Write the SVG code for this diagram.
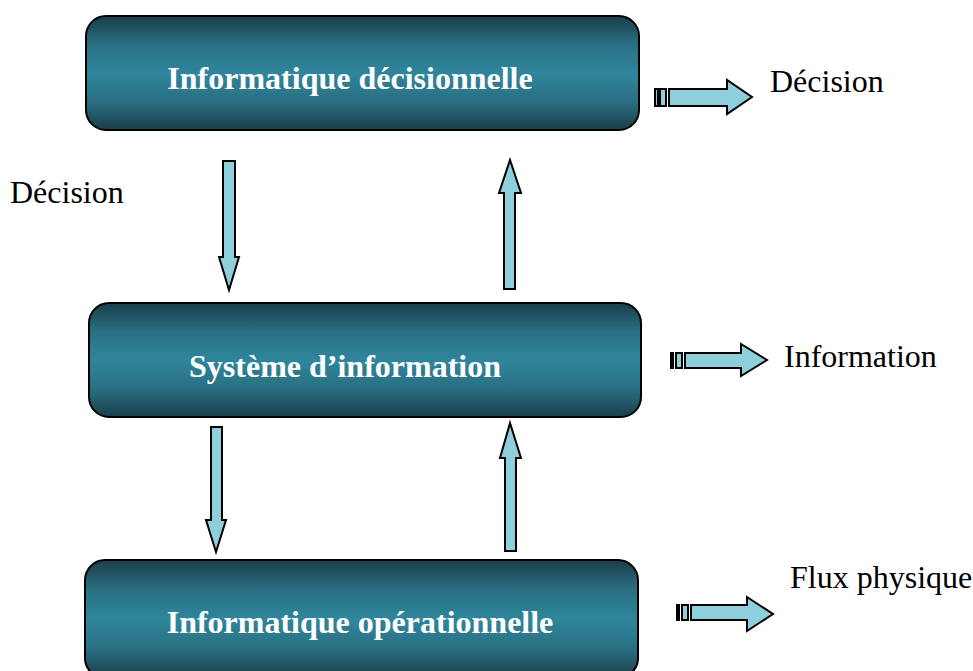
<svg xmlns="http://www.w3.org/2000/svg" width="973" height="671" viewBox="0 0 973 671">
<style>
.box{stroke:#000;stroke-width:2;fill:url(#g)}
.bt{font-family:"Liberation Serif",serif;font-weight:bold;font-size:32px;fill:#fff;text-anchor:middle}
.lt{font-family:"Liberation Serif",serif;font-size:32px;fill:#000}
.ar{fill:#8ecfdc;stroke:#000;stroke-width:2;stroke-linejoin:miter}
</style>
<defs>
<linearGradient id="g" x1="0" y1="0" x2="0" y2="1">
<stop offset="0" stop-color="#1b3d4a"/>
<stop offset="0.25" stop-color="#2a6f82"/>
<stop offset="0.5" stop-color="#2f869c"/>
<stop offset="0.75" stop-color="#2a6f82"/>
<stop offset="1" stop-color="#1b3d4a"/>
</linearGradient>
</defs>
<rect width="973" height="671" fill="#fff"/>
<g id="n1"><rect class="box" x="86" y="16" width="553" height="114" rx="20"/><text class="bt" x="350" y="89">Informatique décisionnelle</text></g>
<g id="n2"><rect class="box" x="89" y="303" width="552" height="114" rx="20"/><text class="bt" x="345" y="377">Système d’information</text></g>
<g id="n3"><rect class="box" x="85" y="560" width="553" height="118" rx="20"/><text class="bt" x="360" y="633">Informatique opérationnelle</text></g>
<g id="connectors">
<polygon class="ar" points="223,161 235,161 235,257 239,257 229,290 219,257 223,257"/>
<polygon class="ar" points="504,289 515,289 515,193 521,193 510,160 499,193 504,193"/>
<polygon class="ar" points="211,427 222,427 222,520 226,520 216,552 206,520 211,520"/>
<polygon class="ar" points="505,551 516,551 516,458 521,458 510,423 500,458 505,458"/>
<g id="a1"><rect class="ar" x="655" y="89" width="3" height="17"/><rect class="ar" x="660" y="89" width="6" height="17"/><polygon class="ar" points="669,89 727,89 727,80 752,97 727,114 727,106 669,106"/></g>
<g id="a2"><rect class="ar" x="671" y="353" width="2" height="15"/><rect class="ar" x="676" y="353" width="6" height="15"/><polygon class="ar" points="685,353 741,353 741,344 767,360 741,376 741,368 685,368"/></g>
<g id="a3"><rect class="ar" x="677" y="605" width="2" height="15"/><rect class="ar" x="682" y="605" width="6" height="15"/><polygon class="ar" points="691,605 747,605 747,597 773,614 747,631 747,620 691,620"/></g>
</g>
<text class="lt" x="770" y="92">Décision</text>
<text class="lt" x="10" y="203">Décision</text>
<text class="lt" x="784" y="367">Information</text>
<text class="lt" x="790" y="588">Flux physique</text>
</svg>
